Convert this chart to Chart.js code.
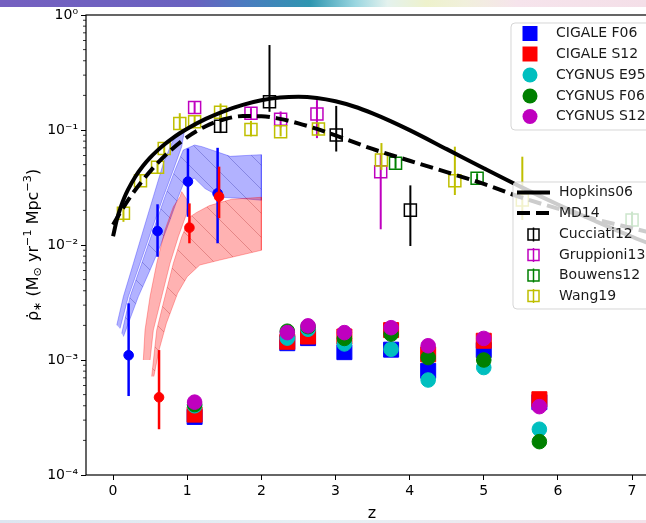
<!DOCTYPE html>
<html>
<head>
<meta charset="utf-8">
<script src="https://cdn.jsdelivr.net/npm/chart.js@4/dist/chart.umd.min.js"></script>
<style>
  html, body { margin: 0; padding: 0; background: #fff; overflow: hidden; width: 646px; height: 523px; }
  #wrap { position: relative; width: 646px; height: 523px; overflow: hidden; }
  #c { position: absolute; left: 0; top: 0; }
  .strip-top { position: absolute; left: 0; top: 0; width: 646px; height: 7px;
    background: linear-gradient(90deg, #7560c0 0%, #6a62c0 30%, #4a7cc0 38%, #2f96b0 48%, #9ad6e0 55%, #e4f2ee 60%, #eef2cc 66%, #f1f0dc 72%, #f6e4ec 80%, #f4dfe8 100%); }
  .strip-bot { position: absolute; left: 0; bottom: 0; width: 646px; height: 3px;
    background: linear-gradient(90deg, #dde6f0 0%, #e6f0f4 50%, #f2e2ea 100%); }
</style>
</head>
<body>
<div id="wrap">
  <canvas id="c" width="670" height="523"></canvas>
  <div class="strip-top"></div>
  <div class="strip-bot"></div>
</div>
<script>
// ---- values ----
const xTicks = [0, 1, 2, 3, 4, 5, 6, 7];
const yTicks = [1e-4, 1e-3, 1e-2, 1e-1, 1];
const yTickLabels = ['10⁻⁴', '10⁻³', '10⁻²', '10⁻¹', '10⁰'];

// reference curves
const hopkinsZ    = [0, 0.05, 0.1, 0.15, 0.2, 0.3, 0.4, 0.5, 0.6, 0.7, 0.8, 0.9, 1.0, 1.25, 1.5, 1.75, 2.0, 2.25, 2.5, 2.75, 3.0, 3.25, 3.5, 3.75, 4.0, 4.5, 5.0, 5.5, 6.0, 6.5, 7.0, 7.5];
const hopkinsSfrd = [0.0119, 0.0165, 0.0210, 0.0256, 0.0301, 0.0392, 0.0483, 0.0574, 0.0665, 0.0756, 0.0847, 0.0937, 0.1027, 0.1249, 0.1462, 0.1654, 0.1812, 0.1915, 0.1947, 0.1899, 0.1777, 0.1601, 0.1396, 0.1190, 0.0997, 0.0682, 0.0465, 0.0320, 0.0225, 0.0162, 0.0118, 0.0088];
const md14Z    = [0, 0.1, 0.25, 0.4, 0.5, 0.6, 0.75, 1.0, 1.25, 1.5, 1.75, 2.0, 2.25, 2.5, 2.75, 3.0, 3.5, 4.0, 4.5, 5.0, 5.5, 6.0, 6.5, 7.0, 7.5];
const md14Sfrd = [0.0150, 0.0193, 0.0272, 0.0366, 0.0437, 0.0515, 0.0642, 0.0867, 0.1079, 0.1240, 0.1321, 0.1319, 0.1250, 0.1142, 0.1021, 0.0897, 0.0684, 0.0540, 0.0430, 0.0340, 0.0260, 0.0207, 0.0168, 0.0140, 0.0117];

// shaded ranges: [z, sfrd] along upper (left) and lower (right) edges
const blueBandAUpper = [[0.05, 0.00201], [0.139, 0.00356], [0.274, 0.00693], [0.408, 0.0135], [0.543, 0.0263], [0.678, 0.0513], [0.79, 0.0766], [0.88, 0.096]];
const blueBandALower = [[0.094, 0.00188], [0.206, 0.00356], [0.364, 0.00693], [0.52, 0.0135], [0.678, 0.0263], [0.813, 0.0449], [0.926, 0.0716], [0.96, 0.096]];
const blueBandBUpper = [[0.117, 0.0017], [0.229, 0.00356], [0.387, 0.00693], [0.543, 0.0135], [0.70, 0.0263], [0.836, 0.0449], [0.947, 0.067], [1.10, 0.074], [1.20, 0.0716], [1.58, 0.059], [2.00, 0.061]];
const blueBandBLower = [[0.14, 0.0016], [0.341, 0.00356], [0.50, 0.00607], [0.633, 0.00966], [0.768, 0.0165], [0.88, 0.0263], [0.97, 0.0367], [1.10, 0.038], [1.24, 0.031], [1.45, 0.026], [1.70, 0.0255], [2.00, 0.0245]];
const redBandAUpper = [[0.408, 0.0010], [0.431, 0.00182], [0.499, 0.00356], [0.589, 0.00693], [0.70, 0.0135], [0.813, 0.0215], [0.903, 0.0263], [0.926, 0.0291]];
const redBandALower = [[0.499, 0.0010], [0.543, 0.00182], [0.656, 0.00356], [0.768, 0.00693], [0.88, 0.0118], [0.993, 0.0188], [1.015, 0.0238]];
const redBandBUpper = [[0.521, 0.00072], [0.589, 0.00182], [0.70, 0.00356], [0.813, 0.00693], [0.926, 0.0118], [1.04, 0.0176], [1.128, 0.0192], [1.30, 0.022], [1.60, 0.025], [2.00, 0.026]];
const redBandBLower = [[0.55, 0.00072], [0.62, 0.00122], [0.72, 0.00209], [0.87, 0.0038], [1.00, 0.0053], [1.17, 0.0067], [1.44, 0.0074], [2.00, 0.0090]];

// filled circles with error bars
const blueZ    = [0.21, 0.60, 1.01, 1.41];
const blueSfrd = [0.0011, 0.0132, 0.0356, 0.0281];
const blueLo   = [0.000486, 0.0079, 0.0176, 0.01035];
const blueHi   = [0.00311, 0.0226, 0.069, 0.070];
const redZ    = [0.62, 1.03, 1.43];
const redSfrd = [0.000474, 0.01415, 0.0263];
const redLo   = [0.00025, 0.01035, 0.0171];
const redHi   = [0.00122, 0.023, 0.048];

// literature points (open squares)
const cucciatiZ    = [1.45, 2.11, 3.01, 4.01];
const cucciatiSfrd = [0.108, 0.176, 0.0905, 0.0201];
const cucciatiLo   = [0.094, 0.144, 0.065, 0.0098];
const cucciatiHi   = [0.140, 0.548, 0.162, 0.033];
const gruppioniZ    = [1.10, 1.86, 2.26, 2.75, 3.61];
const gruppioniSfrd = [0.157, 0.140, 0.124, 0.138, 0.0434];
const gruppioniLo   = [0.140, 0.125, 0.105, 0.085, 0.0137];
const gruppioniHi   = [0.175, 0.155, 0.145, 0.182, 0.0627];
const bouwensZ    = [3.81, 4.91, 7.0];
const bouwensSfrd = [0.0513, 0.038, 0.0165];
const bouwensLo   = [0.046, 0.034, 0.014];
const bouwensHi   = [0.057, 0.042, 0.0195];
const wangZ    = [0.14, 0.37, 0.60, 0.69, 0.90, 1.10, 1.45, 1.86, 2.26, 2.77, 3.62, 4.61, 5.52];
const wangSfrd = [0.0189, 0.0362, 0.0474, 0.069, 0.114, 0.118, 0.1425, 0.101, 0.0967, 0.102, 0.0548, 0.0362, 0.0246];
const wangLo   = [0.0159, 0.032, 0.042, 0.062, 0.100, 0.105, 0.118, 0.088, 0.088, 0.090, 0.045, 0.0272, 0.0165];
const wangHi   = [0.0216, 0.041, 0.053, 0.076, 0.140, 0.135, 0.170, 0.120, 0.110, 0.115, 0.077, 0.0716, 0.0586];

// this work, per template
const clusterZ  = [1.10, 2.35, 2.63, 3.12, 3.75, 4.25, 5.00, 5.75];
const cigaleF06 = [3.2e-4, 1.40e-3, 1.55e-3, 1.17e-3, 1.23e-3, 8.05e-4, 1.22e-3, 4.3e-4];
const cigaleS12 = [3.35e-4, 1.44e-3, 1.60e-3, 1.60e-3, 1.82e-3, 1.12e-3, 1.47e-3, 4.56e-4];
const cygnusE95 = [4.0e-4, 1.55e-3, 1.85e-3, 1.38e-3, 1.24e-3, 6.7e-4, 8.6e-4, 2.5e-4];
const cygnusF06 = [4.1e-4, 1.78e-3, 1.95e-3, 1.54e-3, 1.68e-3, 1.05e-3, 1.0e-3, 1.95e-4];
const cygnusS12 = [4.3e-4, 1.73e-3, 1.98e-3, 1.73e-3, 1.91e-3, 1.33e-3, 1.54e-3, 3.93e-4];

const modelLegend = ['CIGALE F06', 'CIGALE S12', 'CYGNUS E95', 'CYGNUS F06', 'CYGNUS S12'];
const refLegend = ['Hopkins06', 'MD14', 'Cucciati12', 'Gruppioni13', 'Bouwens12', 'Wang19'];

// ---- helpers ----
const FONT = 'DejaVu Sans';
const pts = (xs, ys) => xs.map((x, i) => ({ x, y: ys[i] }));
const poly = (upper, lower) => upper.concat(lower.slice().reverse()).map(([x, y]) => ({ x, y }));

function hatch(fill, line) {
  const n = 24;
  const c = document.createElement('canvas');
  c.width = c.height = n;
  const g = c.getContext('2d');
  g.fillStyle = fill;
  g.fillRect(0, 0, n, n);
  g.strokeStyle = line;
  g.lineWidth = 1;
  g.beginPath();
  g.moveTo(-4, -4); g.lineTo(n + 4, n + 4);
  g.moveTo(n - 4, -4); g.lineTo(n + 4, 4);
  g.moveTo(-4, n - 4); g.lineTo(4, n + 4);
  g.stroke();
  return g.createPattern(c, 'repeat');
}

function band(label, upper, lower, bg, edge, order) {
  return { type: 'line', label, data: poly(upper, lower), fill: 'shape', backgroundColor: bg,
           borderColor: edge, borderWidth: 1, pointRadius: 0, tension: 0, order };
}
function curve(label, xs, ys, dash, order) {
  return { type: 'line', label, data: pts(xs, ys), borderColor: '#000', borderWidth: 4,
           borderDash: dash, borderCapStyle: 'butt', pointRadius: 0, fill: false,
           cubicInterpolationMode: 'monotone', order };
}
function marks(label, xs, ys, style, color, radius, order, lo, hi, errWidth) {
  const open = style === 'openRect';
  return { label, data: pts(xs, ys), pointStyle: open ? 'rect' : style, pointRadius: radius,
           backgroundColor: open ? 'rgba(0,0,0,0)' : color, borderColor: color,
           pointBorderWidth: open ? 1.5 : 1, order, errLo: lo, errHi: hi, errWidth };
}

// ---- plugins ----
const errorBars = {
  id: 'errorBars',
  beforeDatasetDraw(chart, args) {
    const ds = chart.data.datasets[args.index];
    if (!ds.errLo) return;
    const { ctx, chartArea: a, scales: { x, y } } = chart;
    ctx.save();
    ctx.beginPath();
    ctx.rect(a.left, a.top, a.right - a.left, a.bottom - a.top);
    ctx.clip();
    ctx.strokeStyle = ds.borderColor;
    ctx.lineWidth = ds.errWidth;
    ds.data.forEach((p, i) => {
      const px = x.getPixelForValue(p.x);
      ctx.beginPath();
      ctx.moveTo(px, y.getPixelForValue(ds.errLo[i]));
      ctx.lineTo(px, y.getPixelForValue(ds.errHi[i]));
      ctx.stroke();
    });
    ctx.restore();
  }
};

const frame = {
  id: 'frame',
  afterDatasetsDraw(chart) {
    const { ctx, chartArea: a, scales: { y } } = chart;
    ctx.save();
    ctx.strokeStyle = '#000';
    ctx.lineWidth = 1.2;
    ctx.strokeRect(a.left, a.top, a.right - a.left, a.bottom - a.top);
    // minor ticks of the log axis
    ctx.lineWidth = 0.8;
    for (let d = -4; d < 0; d++) {
      for (let k = 2; k < 10; k++) {
        const py = y.getPixelForValue(k * Math.pow(10, d));
        ctx.beginPath();
        ctx.moveTo(a.left, py);
        ctx.lineTo(a.left - 3, py);
        ctx.stroke();
      }
    }
    ctx.restore();
  }
};

function richText(ctx, parts, cx, cy, size) {
  const fontFor = k => (k ? size * 0.7 : size) + 'px "' + FONT + '"';
  const widths = parts.map(([t, k]) => { ctx.font = fontFor(k); return ctx.measureText(t).width; });
  let x = cx - widths.reduce((s, w) => s + w, 0) / 2;
  parts.forEach(([t, k], i) => {
    ctx.font = fontFor(k);
    const dy = k === 'sup' ? -size * 0.38 : k === 'sub' ? size * 0.25 : 0;
    ctx.fillText(t, x, cy + dy);
    x += widths[i];
  });
}

function legendBox(ctx, x, y, w, h) {
  ctx.beginPath();
  ctx.roundRect(x, y, w, h, 4);
  ctx.fillStyle = 'rgba(255,255,255,0.8)';
  ctx.fill();
  ctx.strokeStyle = 'rgba(204,204,204,0.8)';
  ctx.lineWidth = 1;
  ctx.stroke();
}

const annotations = {
  id: 'annotations',
  afterDraw(chart) {
    const ctx = chart.ctx;
    const byLabel = l => chart.data.datasets.find(d => d.label === l);
    ctx.save();
    ctx.textBaseline = 'middle';
    ctx.textAlign = 'left';

    // legend: this work
    legendBox(ctx, 511, 23, 160, 107);
    const rows1 = [33.5, 54, 75, 96, 116.5];
    modelLegend.forEach((l, i) => {
      const ds = byLabel(l);
      const cy = rows1[i];
      ctx.fillStyle = ds.backgroundColor;
      ctx.beginPath();
      if (ds.pointStyle === 'rect') ctx.rect(530 - 7.5, cy - 7.5, 15, 15);
      else ctx.arc(530, cy, 7.5, 0, Math.PI * 2);
      ctx.fill();
      ctx.fillStyle = '#1a1a1a';
      ctx.font = '14px "' + FONT + '"';
      ctx.fillText(l, 556, cy);
    });

    // legend: references
    legendBox(ctx, 513, 182, 160, 127);
    const rows2 = [192.5, 213, 234.5, 255, 275.5, 296];
    refLegend.forEach((l, i) => {
      const ds = byLabel(l);
      const cy = rows2[i];
      ctx.save();
      if (ds.type === 'line') {
        ctx.strokeStyle = ds.borderColor;
        ctx.lineWidth = ds.borderWidth;
        ctx.setLineDash(ds.borderDash || []);
        ctx.beginPath();
        ctx.moveTo(517, cy);
        ctx.lineTo(550, cy);
        ctx.stroke();
      } else {
        ctx.strokeStyle = ds.borderColor;
        ctx.lineWidth = 1.5;
        ctx.strokeRect(533.5 - 5.5, cy - 5.5, 11, 11);
        ctx.beginPath();
        ctx.moveTo(533.5, cy - 7);
        ctx.lineTo(533.5, cy + 7);
        ctx.stroke();
      }
      ctx.restore();
      ctx.fillStyle = '#1a1a1a';
      ctx.font = '14px "' + FONT + '"';
      ctx.fillText(l, 559, cy);
    });

    // y axis title with sub/superscripts
    ctx.translate(34, 245);
    ctx.rotate(-Math.PI / 2);
    ctx.fillStyle = '#000';
    richText(ctx, [['ρ̇', ''], ['∗', 'sub'], [' (M', ''], ['⊙', 'sub'], [' yr', ''], ['−1', 'sup'],
                   [' Mpc', ''], ['−3', 'sup'], [')', '']], 0, 0, 16);
    ctx.restore();
  }
};

// ---- chart ----
const ctx = document.getElementById('c').getContext('2d');
const blueHatch = hatch('rgba(0,0,255,0.3)', 'rgba(30,30,160,0.3)');
const redHatch = hatch('rgba(255,0,0,0.3)', 'rgba(170,30,30,0.3)');

const datasets = [
  band('blue range A', blueBandAUpper, blueBandALower, 'rgba(0,0,255,0.3)', 'rgba(0,0,255,0.3)', 23),
  band('blue range B', blueBandBUpper, blueBandBLower, blueHatch, 'rgba(0,0,255,0.3)', 22),
  band('red range A', redBandAUpper, redBandALower, 'rgba(255,0,0,0.3)', 'rgba(255,0,0,0.3)', 21),
  band('red range B', redBandBUpper, redBandBLower, redHatch, 'rgba(255,0,0,0.3)', 20),
  marks('Cucciati12', cucciatiZ, cucciatiSfrd, 'openRect', '#000000', 8.5, 15, cucciatiLo, cucciatiHi, 2),
  marks('Gruppioni13', gruppioniZ, gruppioniSfrd, 'openRect', '#bf00bf', 8.5, 14, gruppioniLo, gruppioniHi, 2),
  marks('Bouwens12', bouwensZ, bouwensSfrd, 'openRect', '#008000', 8.5, 13, bouwensLo, bouwensHi, 2),
  marks('Wang19', wangZ, wangSfrd, 'openRect', '#bfbf00', 8.5, 12, wangLo, wangHi, 2),
  curve('Hopkins06', hopkinsZ, hopkinsSfrd, [], 11),
  curve('MD14', md14Z, md14Sfrd, [13, 6], 10),
  marks('blue estimate', blueZ, blueSfrd, 'circle', '#0000ff', 4.8, 9, blueLo, blueHi, 2.5),
  marks('red estimate', redZ, redSfrd, 'circle', '#ff0000', 4.8, 8, redLo, redHi, 2.5),
  marks('CIGALE F06', clusterZ, cigaleF06, 'rect', '#0000ff', 10.6, 5),
  marks('CIGALE S12', clusterZ, cigaleS12, 'rect', '#ff0000', 10.6, 4),
  marks('CYGNUS E95', clusterZ, cygnusE95, 'circle', '#00bfbf', 7.3, 3),
  marks('CYGNUS F06', clusterZ, cygnusF06, 'circle', '#008000', 7.3, 2),
  marks('CYGNUS S12', clusterZ, cygnusS12, 'circle', '#bf00bf', 7.3, 1)
];

new Chart(ctx, {
  type: 'scatter',
  data: { datasets },
  plugins: [errorBars, frame, annotations],
  options: {
    responsive: false,
    devicePixelRatio: 1,
    animation: false,
    events: [],
    layout: { padding: { top: 15, right: 12, left: 0, bottom: 0 } },
    plugins: { legend: { display: false }, tooltip: { enabled: false } },
    scales: {
      x: {
        type: 'linear',
        min: -0.365,
        max: 7.35,
        afterFit: s => { s.height = 48; },
        afterBuildTicks: s => { s.ticks = xTicks.map(v => ({ value: v })); },
        grid: { display: true, drawOnChartArea: false, drawTicks: true, tickLength: 5, tickColor: '#000', tickWidth: 1 },
        border: { display: false },
        ticks: { color: '#000', padding: 3, font: { family: FONT, size: 14 }, maxRotation: 0, autoSkip: false },
        title: { display: true, text: 'z', color: '#000', font: { family: FONT, size: 16 }, padding: { top: 0, bottom: 0 } }
      },
      y: {
        type: 'logarithmic',
        min: 1e-4,
        max: 1,
        afterFit: s => { s.width = 86; },
        afterBuildTicks: s => { s.ticks = yTicks.map(v => ({ value: v, major: true })); },
        grid: { display: true, drawOnChartArea: false, drawTicks: true, tickLength: 5, tickColor: '#000', tickWidth: 1 },
        border: { display: false },
        ticks: {
          color: '#000', padding: 3, font: { family: FONT, size: 14 }, autoSkip: false,
          callback: v => { const i = yTicks.indexOf(v); return i >= 0 ? yTickLabels[i] : ''; }
        }
      }
    }
  }
});
</script>
</body>
</html>
